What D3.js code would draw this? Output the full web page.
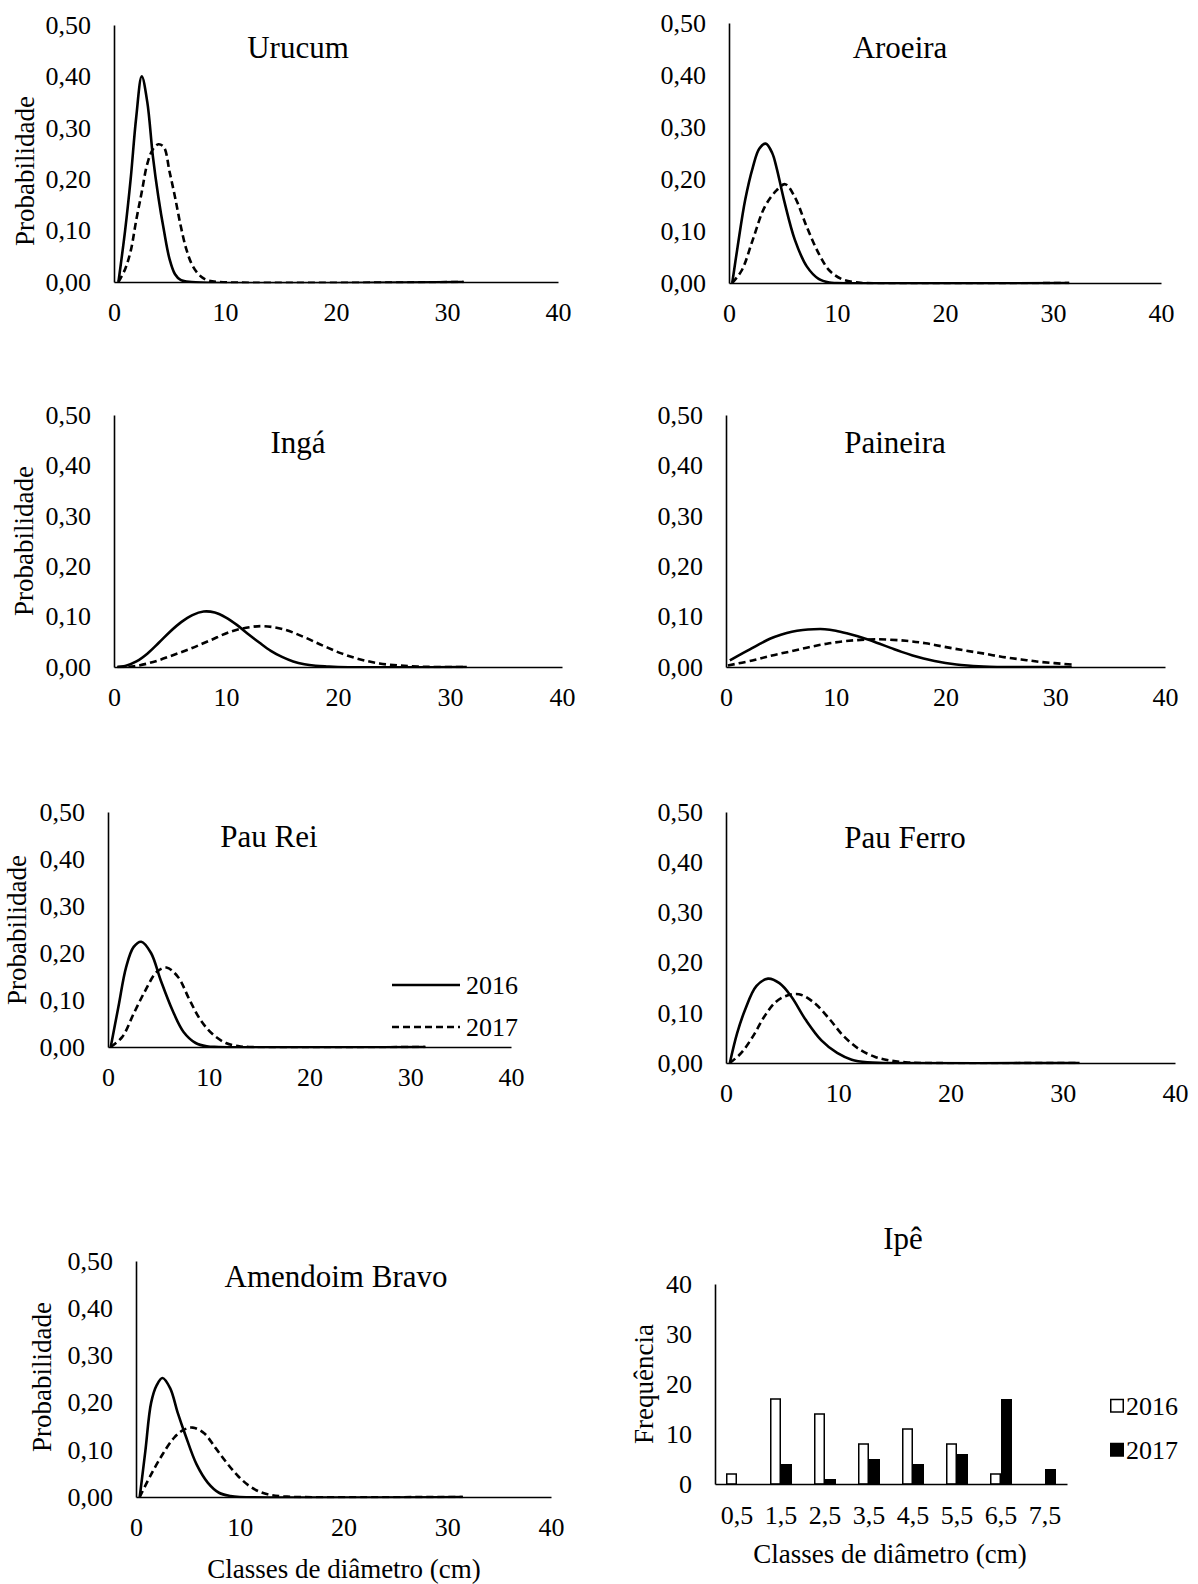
<!DOCTYPE html>
<html><head><meta charset="utf-8">
<script src="https://cdn.jsdelivr.net/npm/d3@7"></script>
<style>
body{margin:0;background:#fff;}
svg{display:block;}
</style>
</head><body>
<svg id="chart" width="1198" height="1584"></svg>
<script>
// ---------------- DATA ----------------
const xTicks = [0, 10, 20, 30, 40];
const yTicks = [0, 0.1, 0.2, 0.3, 0.4, 0.5];
const years = ["2016", "2017"];

// [diameter class (cm), probability]
const urucum2016 = [[0.4,0],[1,0.10],[1.5,0.20],[2,0.32],[2.5,0.40],[3,0.35],[3.5,0.245],[4,0.165],[4.5,0.10],[5,0.045],[5.5,0.015],[6,0.004],[7,0],[31.5,0]];
const urucum2017 = [[0.4,0],[1,0.025],[1.5,0.06],[2,0.12],[2.5,0.175],[3,0.23],[3.5,0.258],[4,0.268],[4.5,0.262],[5,0.215],[5.5,0.165],[6,0.11],[6.5,0.065],[7,0.035],[7.5,0.018],[8,0.008],[8.5,0.003],[9.5,0],[31.5,0]];

const aroeira2016 = [[0.3,0],[0.8,0.07],[1.5,0.16],[2.2,0.222],[2.8,0.258],[3.4,0.268],[4,0.25],[4.4,0.222],[5.1,0.159],[6.1,0.083],[7.2,0.032],[8.3,0.008],[9.3,0.001],[10,0],[31.5,0]];
const aroeira2017 = [[0.3,0],[1.2,0.025],[2.2,0.083],[3.3,0.146],[4.4,0.178],[5.2,0.19],[6.1,0.165],[7.2,0.108],[8.3,0.057],[9.3,0.024],[10.4,0.008],[11.5,0.002],[12.5,0],[31.5,0]];

const inga2016 = [[0.3,0],[1,0.002],[2,0.011],[3,0.027],[4,0.048],[5,0.07],[6,0.089],[7,0.103],[8,0.11],[9,0.108],[10,0.098],[11,0.083],[12,0.065],[13,0.048],[14,0.032],[15,0.02],[16,0.011],[17,0.0055],[18,0.0025],[19,0.001],[20,0],[31.5,0]];
const inga2017 = [[0.3,0],[1.8,0.0015],[3.5,0.01],[5.2,0.023],[6.9,0.037],[8.6,0.053],[10.4,0.07],[12.1,0.079],[13.4,0.081],[15.1,0.075],[16.9,0.06],[18.6,0.043],[20.3,0.027],[22,0.015],[23.7,0.007],[25.4,0.003],[27.1,0.001],[29,0],[31.5,0]];

const paineira2016 = [[0.35,0.013],[1,0.021],[2,0.033],[3,0.045],[4,0.056],[5,0.064],[6,0.07],[7,0.0735],[8,0.075],[9,0.075],[10,0.072],[11,0.067],[12,0.061],[13,0.054],[14,0.046],[15,0.038],[16,0.03],[17,0.023],[18,0.017],[19,0.012],[20,0.008],[21,0.005],[22,0.003],[23,0.0015],[24,0.0006],[25.5,0],[31.5,0]];
const paineira2017 = [[0.17,0.003],[2.4,0.013],[4.2,0.023],[5.9,0.031],[7.7,0.04],[9.4,0.047],[11.2,0.052],[13.6,0.055],[16.4,0.052],[18.2,0.047],[19.9,0.04],[21.7,0.033],[23.4,0.027],[25.2,0.02],[26.9,0.015],[28.7,0.01],[31.5,0.005]];

const pauRei2016 = [[0.27,0],[1.03,0.085],[1.8,0.17],[2.55,0.213],[3.3,0.224],[4.27,0.2],[5.23,0.142],[6.4,0.078],[7.5,0.032],[8.7,0.0085],[9.8,0.0014],[11,0],[31.5,0]];
const pauRei2017 = [[0.27,0],[1.4,0.021],[2.55,0.071],[3.7,0.12],[4.85,0.16],[5.8,0.169],[6.95,0.149],[8.1,0.10],[9.2,0.057],[10.4,0.027],[11.7,0.0085],[12.9,0.002],[14,0],[31.5,0]];

const pauFerro2016 = [[0.34,0],[1.0,0.06],[1.7,0.106],[2.7,0.153],[3.74,0.168],[4.76,0.159],[5.8,0.133],[7.1,0.086],[8.5,0.045],[9.9,0.02],[11.2,0.0066],[12.6,0.0013],[14,0],[31.5,0]];
const pauFerro2017 = [[0.34,0],[1.36,0.02],[2.4,0.053],[3.4,0.092],[4.4,0.121],[5.4,0.134],[6.5,0.137],[7.8,0.121],[9.2,0.088],[10.5,0.053],[11.9,0.027],[13.3,0.012],[14.6,0.005],[16,0.0013],[17.5,0],[31.5,0]];

const amendoim2016 = [[0.36,0],[0.9,0.097],[1.46,0.20],[2.0,0.237],[2.55,0.252],[3.3,0.23],[4.0,0.18],[4.75,0.132],[5.84,0.069],[6.93,0.03],[8.0,0.009],[9.1,0.002],[10,0],[31.5,0]];
const amendoim2017 = [[0.36,0],[1.46,0.048],[2.55,0.09],[3.65,0.125],[4.56,0.142],[5.47,0.147],[6.57,0.135],[7.66,0.104],[8.76,0.072],[9.85,0.044],[10.95,0.023],[12.0,0.0105],[13.1,0.004],[14.2,0.0014],[15.5,0],[31.5,0]];

// Ipê bar chart
const ipeClasses = ["0,5","1,5","2,5","3,5","4,5","5,5","6,5","7,5"];
const ipe2016 = [2,17,14,8,11,8,2,0];
const ipe2017 = [0,4,1,5,4,6,17,3];
const ipeTicks = [0,10,20,30,40];

// ---------------- DRAWING ----------------
const FONT = '"Liberation Serif","Times New Roman",Times,serif';
const svg = d3.select("#chart").style("font-family", FONT);
const TICK_FS = 26, TITLE_FS = 31, AXT_FS = 27;
const fmt = d => d3.format(".2f")(d).replace(".", ",");

const panels = [
  {title:"Urucum", a:urucum2016, b:urucum2017, x0:114, x1:558, yTop:25, yBase:282, tx:298, ty:47, yl:[25,171]},
  {title:"Aroeira", a:aroeira2016, b:aroeira2017, x0:729, x1:1161, yTop:23, yBase:283, tx:900, ty:47, yl:null},
  {title:"Ingá", a:inga2016, b:inga2017, x0:114, x1:562, yTop:415, yBase:667, tx:298, ty:442, yl:[24,541]},
  {title:"Paineira", a:paineira2016, b:paineira2017, x0:726, x1:1165, yTop:415, yBase:667, tx:895, ty:442, yl:null},
  {title:"Pau Rei", a:pauRei2016, b:pauRei2017, x0:108, x1:511, yTop:812, yBase:1047, tx:269, ty:836, yl:[17,930], legend:true},
  {title:"Pau Ferro", a:pauFerro2016, b:pauFerro2017, x0:726, x1:1175, yTop:812, yBase:1063, tx:905, ty:837, yl:null},
  {title:"Amendoim Bravo", a:amendoim2016, b:amendoim2017, x0:136, x1:551, yTop:1261, yBase:1497, tx:336, ty:1276, yl:[42,1377], xt:[344,1578]}
];

function styleAxis(g){
  g.attr("font-family", FONT).attr("font-size", TICK_FS);
  g.select(".domain").attr("stroke","#000").attr("stroke-width",1.6);
  g.selectAll(".tick line").remove();
  g.selectAll("text").style("font-family", FONT).attr("font-size",TICK_FS).attr("fill","#000");
}
function txt(sel){ return sel.append("text").style("font-family", FONT).attr("fill","#000"); }

const defs = svg.append("defs");

panels.forEach((p, k) => {
  const x = d3.scaleLinear().domain([0,40]).range([p.x0, p.x1]);
  const y = d3.scaleLinear().domain([0,0.5]).range([p.yBase, p.yTop]);
  const g = svg.append("g");

  defs.append("clipPath").attr("id","clip"+k).append("rect")
    .attr("x", p.x0).attr("y", p.yTop - 10).attr("width", p.x1 - p.x0).attr("height", p.yBase - p.yTop + 11.3);

  g.append("g").attr("transform",`translate(0,${p.yBase})`)
    .call(d3.axisBottom(x).tickValues(xTicks).tickSize(0).tickSizeOuter(0).tickPadding(21))
    .call(styleAxis);
  g.append("g").attr("transform",`translate(${p.x0},0)`)
    .call(d3.axisLeft(y).tickValues(yTicks).tickFormat(fmt).tickSize(0).tickSizeOuter(0).tickPadding(23))
    .call(styleAxis);

  const line = d3.line().x(d => x(d[0])).y(d => y(d[1])).curve(d3.curveCatmullRom.alpha(0.5));
  const cg = g.append("g").attr("clip-path", `url(#clip${k})`);
  cg.append("path").datum(p.b).attr("d", line).attr("fill","none").attr("stroke","#000")
    .attr("stroke-width",2.6).attr("stroke-dasharray","7,4");
  cg.append("path").datum(p.a).attr("d", line).attr("fill","none").attr("stroke","#000")
    .attr("stroke-width",2.6);

  txt(g).attr("x",p.tx).attr("y",p.ty).attr("text-anchor","middle")
    .attr("dominant-baseline","central").attr("font-size",TITLE_FS).text(p.title);

  if (p.yl) {
    txt(g).attr("transform",`translate(${p.yl[0]},${p.yl[1]}) rotate(-90)`)
      .attr("text-anchor","middle").attr("dominant-baseline","central")
      .attr("font-size",AXT_FS).text("Probabilidade");
  }
  if (p.xt) {
    txt(g).attr("x",p.xt[0]).attr("y",p.xt[1]).attr("text-anchor","middle")
      .attr("font-size",AXT_FS).text("Classes de diâmetro (cm)");
  }
  if (p.legend) {
    years.forEach((yr,i) => {
      const ly = [985, 1027][i];
      g.append("line").attr("x1",392).attr("x2",460).attr("y1",ly).attr("y2",ly)
        .attr("stroke","#000").attr("stroke-width",2.6)
        .attr("stroke-dasharray", i ? "7,4" : null);
      txt(g).attr("x",466).attr("y",ly).attr("dominant-baseline","central")
        .attr("font-size",TICK_FS).text(yr);
    });
  }
});

// ---- Ipê bar chart ----
(function(){
  const x = d3.scaleBand().domain(ipeClasses).range([715,1067]).paddingInner(0).paddingOuter(0);
  const inner = d3.scaleBand().domain(years).range([x.bandwidth()/4, x.bandwidth()*3/4]);
  const y = d3.scaleLinear().domain([0,40]).range([1484,1284]);
  const g = svg.append("g");
  const rows = ipeClasses.map((c,i) => ({c, v:[ipe2016[i], ipe2017[i]]}));

  rows.forEach(r => {
    years.forEach((yr,j) => {
      if (r.v[j] <= 0) return;
      g.append("rect")
        .attr("x", x(r.c) + inner(yr) + (j===0?0.75:0))
        .attr("y", y(r.v[j]))
        .attr("width", inner.bandwidth() - (j===0?1.5:0))
        .attr("height", y(0) - y(r.v[j]))
        .attr("fill", j===0 ? "#fff" : "#000")
        .attr("stroke", "#000").attr("stroke-width", j===0 ? 1.5 : 0);
    });
  });

  g.append("g").attr("transform","translate(0,1484)")
    .call(d3.axisBottom(x).tickSize(0).tickSizeOuter(0).tickPadding(22))
    .call(styleAxis);
  g.append("g").attr("transform","translate(715,0)")
    .call(d3.axisLeft(y).tickValues(ipeTicks).tickSize(0).tickSizeOuter(0).tickPadding(23))
    .call(styleAxis);

  txt(g).attr("x",903).attr("y",1238).attr("text-anchor","middle")
    .attr("dominant-baseline","central").attr("font-size",TITLE_FS).text("Ipê");
  txt(g).attr("transform","translate(644,1384) rotate(-90)")
    .attr("text-anchor","middle").attr("dominant-baseline","central")
    .attr("font-size",AXT_FS).text("Frequência");
  txt(g).attr("x",890).attr("y",1563).attr("text-anchor","middle")
    .attr("font-size",AXT_FS).text("Classes de diâmetro (cm)");

  years.forEach((yr,i) => {
    const ly = [1406,1450][i];
    g.append("rect").attr("x",1110.75).attr("y",ly-6.5).attr("width",12.5).attr("height",12.5)
      .attr("fill", i ? "#000" : "#fff").attr("stroke","#000").attr("stroke-width",1.5);
    txt(g).attr("x",1126).attr("y",ly).attr("dominant-baseline","central")
      .attr("font-size",TICK_FS).text(yr);
  });
})();
</script>
</body></html>
